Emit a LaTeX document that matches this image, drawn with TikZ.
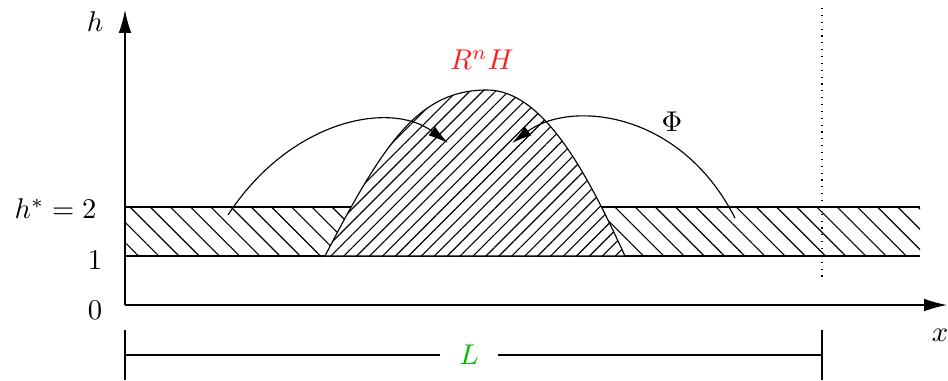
\documentclass[tikz,border=0pt]{standalone}
\usepackage{xcolor}
\usetikzlibrary{arrows.meta,patterns.meta}
\definecolor{pink}{HTML}{FF1A1A}
\definecolor{leaf}{HTML}{00BB00}
\tikzset{
  axis/.style={-{Latex[length=8pt,width=4.4pt]}},
  flow/.style={-{Latex[length=7pt,width=3.8pt]}},
  band/.style={pattern={Lines[angle=-45,distance=5pt,line width=0.4pt]}},
  bump/.style={fill=white,draw,pattern={Lines[angle=45,distance=3.2pt,line width=0.4pt]}},
  lab/.style={inner sep=1pt}
}
\begin{document}
\begin{tikzpicture}[x=0.35pt,y=0.35pt]
\useasboundingbox (0,0) rectangle (948,380);
% axes
\coordinate (o) at (125,75); \coordinate (ytop) at (125,370); \coordinate (xend) at (947,75);
% band between h=1 and h*=2
\fill[band] (125,124) rectangle (920,173);
\draw (125,173) -- (920,173); \draw (125,124) -- (920,124);
% the bump R^n H
\fill[white] (325,124) .. controls (385,240) and (420,290) .. (487,290) .. controls (545,290) and (590,200) .. (625,124) -- cycle;
\draw[bump] (325,124) .. controls (385,240) and (420,290) .. (487,290) .. controls (545,290) and (590,200) .. (625,124) -- cycle;
\draw[axis] (o) -- (ytop); \draw[axis] (o) -- (xend);
\draw[dotted] (822,372) -- (822,98);
% flows Phi
\coordinate (a1) at (228,165); \coordinate (b1) at (448,237);
\coordinate (a2) at (735,162); \coordinate (b2) at (512,237);
\draw[flow] (a1) .. controls (290,260) and (390,280) .. (b1);
\draw[flow] (a2) .. controls (680,270) and (570,280) .. (b2);
\node[lab] (h) at (95,358) {$h$};
\node[lab,anchor=east] (hs) at (100,171) {$h^*=2$};
\node[lab] (one) at (95,120) {$1$};
\node[lab] (zero) at (95,70) {$0$};
\node[lab] (x) at (940,45) {$x$};
\node[lab,text=pink] (rnh) at (482,320) {$R^nH$};
\node[lab] (phi) at (672,258) {$\Phi$};
% length L
\coordinate (l1) at (125,25); \coordinate (l2) at (822,25);
\draw (125,50) -- (125,0); \draw (822,50) -- (822,0);
\node[text=leaf,fill=white,inner sep=6.5pt] (len) at (469,25) {$L$};
\draw (l1) -- (len); \draw (len) -- (l2);
\end{tikzpicture}
\end{document}
